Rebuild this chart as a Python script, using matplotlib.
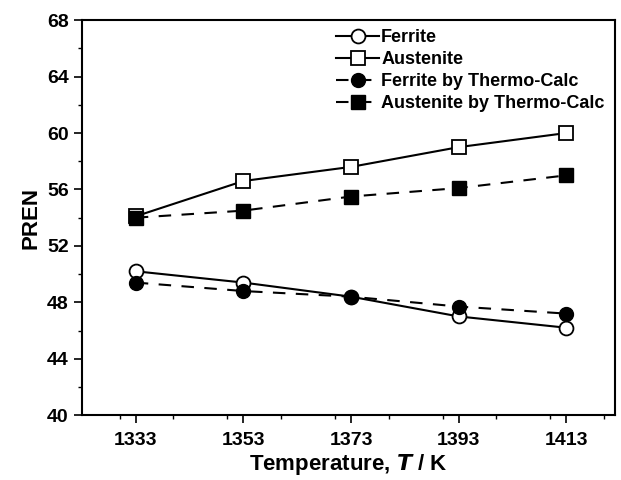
import numpy as np
import matplotlib.pyplot as plt
from matplotlib.ticker import MultipleLocator

plt.rcParams['font.family'] = ['Liberation Sans', 'DejaVu Sans']
plt.rcParams['font.weight'] = 'bold'

# temperatures (K)
temps = [1333, 1353, 1373, 1393, 1413]

# PREN values
ferrite = [50.2, 49.4, 48.4, 47.0, 46.2]
austenite = [54.1, 56.6, 57.6, 59.0, 60.0]
ferrite_tc = [49.4, 48.8, 48.4, 47.7, 47.2]
austenite_tc = [54.0, 54.5, 55.5, 56.1, 57.0]

fig = plt.figure(figsize=(6.21, 4.8), dpi=100)
ax = fig.add_axes([0.132, 0.135, 0.858, 0.823])

ms = 10
ax.plot(temps, ferrite, '-', color='black', lw=1.5, marker='o', ms=ms,
        mfc='white', mec='black', mew=1.3, label='Ferrite')
ax.plot(temps, austenite, '-', color='black', lw=1.5, marker='s', ms=ms,
        mfc='white', mec='black', mew=1.3, label='Austenite')
ax.plot(temps, ferrite_tc, '--', color='black', lw=1.5, marker='o', ms=ms,
        mfc='black', mec='black', dashes=(6, 5), label='Ferrite by Thermo-Calc')
ax.plot(temps, austenite_tc, '--', color='black', lw=1.5, marker='s', ms=ms,
        mfc='black', mec='black', dashes=(6, 5), label='Austenite by Thermo-Calc')

ax.set_xlim(1323, 1422)
ax.set_ylim(40, 68)
ax.set_xticks(temps)
ax.xaxis.set_minor_locator(MultipleLocator(10))
ax.yaxis.set_major_locator(MultipleLocator(4))
ax.yaxis.set_minor_locator(MultipleLocator(2))
ax.tick_params(which='major', direction='out', length=6, width=1.2, labelsize=14)
ax.tick_params(axis='x', which='major', pad=6)
ax.tick_params(which='minor', direction='out', length=3, width=1.0)
for s in ax.spines.values():
    s.set_linewidth(1.5)

ax.set_xlabel(r'Temperature, $\mathbf{\mathit{T}}$ / K', fontsize=16, fontweight='bold', labelpad=2)
ax.set_ylabel('PREN', fontsize=16, fontweight='bold', labelpad=4)

ax.legend(loc='upper left', bbox_to_anchor=(0.453, 1.01), frameon=False,
          fontsize=13, handlelength=2.4, handletextpad=0.1, labelspacing=0.28,
          borderaxespad=0.3)

fig.savefig('out.png', dpi=100)
